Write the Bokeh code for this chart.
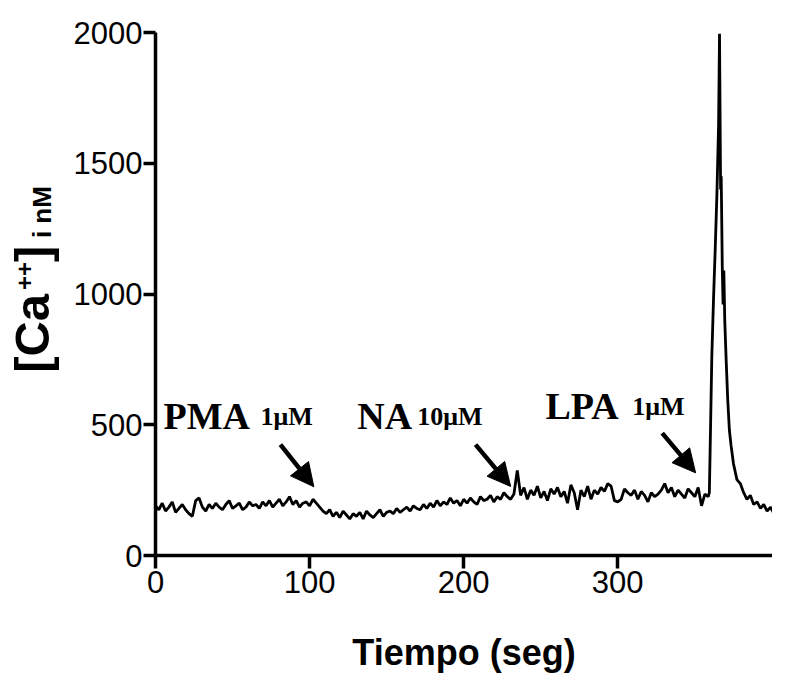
import numpy as np
from bokeh.plotting import figure
from bokeh.layouts import row
from bokeh.models import Label, Arrow, NormalHead, Range1d, FixedTicker
from bokeh.core.properties import value
from bokeh.embed import file_html
from bokeh.resources import INLINE

# ---- data ----
sample_step = 2.175  # seconds between samples of the resting trace
ca_base = [
    190, 175, 200, 170, 185, 205, 165, 180, 195, 175,
    160, 150, 210, 220, 185, 170, 195, 180, 200, 185,
    175, 195, 210, 180, 190, 200, 175, 185, 205, 190,
    195, 180, 205, 190, 210, 185, 200, 215, 190, 205,
    225, 195, 210, 185, 200, 205, 190, 215, 200, 185,
    170, 160, 175, 150, 165, 145, 170, 155, 140, 160,
    150, 165, 140, 170, 155, 145, 160, 175, 150, 165,
    170, 160, 180, 165, 175, 185, 170, 190, 180, 175,
    195, 180, 200, 185, 210, 190, 205, 195, 220, 200,
    210, 190, 215, 200, 220, 205, 195, 225, 210, 215,
    230, 205, 225, 215, 240, 225, 215, 235, 325, 230,
    260, 215, 250, 230, 265, 220, 245, 210, 255, 235,
    260, 225, 245, 200, 270, 240, 175, 250, 225, 265,
    215, 250, 235, 260, 245, 275, 265, 210, 205, 215,
    255, 240, 230, 250, 215, 245, 230, 205, 240, 225,
    235, 250, 275, 240, 260, 225, 250, 235, 220, 255,
    240, 225, 260, 190, 235, 225,
]
time_base = [round(i * sample_step, 3) for i in range(len(ca_base))]
time_peak = [359.6, 360.1, 361.2, 362.3, 363.4, 364.5, 365.6, 366.2, 366.9, 367.3,
             368.0, 368.5, 369.0, 369.6, 370.5, 371.5, 372.6, 373.7, 375.3, 377.5,
             379.7, 381.9, 384.0, 386.2, 388.4, 390.6, 392.8, 394.9, 397.1, 399.3,
             401.5, 403.6, 405.8]
ca_peak = [240, 400, 760, 980, 1170, 1380, 1650, 1995, 1400, 1450,
           1100, 960, 1090, 900, 750, 600, 480, 420, 350, 290,
           275, 240, 215, 230, 195, 205, 180, 195, 170, 185,
           160, 175, 165]

x_ticks = [0, 100, 200, 300]
y_ticks = [0, 500, 1000, 1500, 2000]

annot_names = ["PMA", "NA", "LPA"]
annot_doses = ["1\u03bcM", "10\u03bcM", "1\u03bcM"]
annot_name_x = [5.2, 131.0, 253.2]
annot_dose_x = [68.2, 169.9, 309.6]
annot_text_y = [532, 532, 571]
arrow_x0 = [81.1, 207.8, 329.0]
arrow_y0 = [424, 424, 468]
arrow_x1 = [102.8, 230.6, 350.7]
arrow_y1 = [263, 264, 316]

time = time_base + time_peak
ca = ca_base + ca_peak

# ---- main plot ----
p = figure(width=712, height=675, output_backend="svg", toolbar_location=None,
           x_range=Range1d(0, 400.6), y_range=Range1d(0, 2000),
           min_border_left=95, min_border_right=0, min_border_top=32,
           min_border_bottom=119)
p.outline_line_color = None
p.xgrid.visible = False
p.ygrid.visible = False

p.line(time, ca, line_color="black", line_width=2.8)

for ax in (p.xaxis[0], p.yaxis[0]):
    ax.axis_line_width = 3.5
    ax.axis_line_color = "black"
    ax.major_tick_line_width = 3.5
    ax.major_tick_line_color = "black"
    ax.major_tick_in = 0
    ax.minor_tick_line_color = None
    ax.major_label_text_font = "Liberation Sans"
    ax.major_label_text_font_size = "31px"
    ax.major_label_text_color = "black"

p.xaxis.ticker = FixedTicker(ticks=x_ticks)
p.yaxis.ticker = FixedTicker(ticks=y_ticks)
p.xaxis.major_tick_out = 13
p.yaxis.major_tick_out = 12
p.xaxis.major_label_standoff = 2
p.yaxis.major_label_standoff = 1

p.xaxis.axis_label = "Tiempo (seg)"
p.xaxis.axis_label_text_font = "Liberation Sans"
p.xaxis.axis_label_text_font_style = "bold"
p.xaxis.axis_label_text_font_size = "36px"
p.xaxis.axis_label_text_color = "black"
p.xaxis.axis_label_standoff = 36

for i in range(len(annot_names)):
    p.add_layout(Label(x=annot_name_x[i], y=annot_text_y[i], text=annot_names[i],
                       text_font="Liberation Serif", text_font_style="bold",
                       text_font_size="38px", text_color="black",
                       text_align="left", text_baseline="alphabetic"))
    p.add_layout(Label(x=annot_dose_x[i], y=annot_text_y[i], text=annot_doses[i],
                       text_font="Liberation Serif", text_font_style="bold",
                       text_font_size="26px", text_color="black",
                       text_align="left", text_baseline="alphabetic"))
    p.add_layout(Arrow(end=NormalHead(size=23, fill_color="black", line_color="black"),
                       x_start=arrow_x0[i], y_start=arrow_y0[i],
                       x_end=arrow_x1[i], y_end=arrow_y1[i],
                       line_width=4.5, line_color="black"))

# ---- y-axis title panel (rotated pieces with mixed sizes) ----
# In a row the frames are aligned (top border 32, bottom border 119), so the
# y range maps page pixels: value = 675 - pixel_y.
ylab = figure(width=60, height=675, output_backend="svg", toolbar_location=None,
              x_range=Range1d(0, 60), y_range=Range1d(119, 643),
              min_border_left=0, min_border_right=0,
              min_border_top=32, min_border_bottom=119)
ylab.axis.visible = False
ylab.grid.visible = False
ylab.outline_line_color = None

ylab_text = ["[Ca", "++", "]", "i nM"]
ylab_x = [31, 24, 31, 41]
ylab_y = [302, 385, 413, 437]
ylab_size = ["49px", "24px", "49px", "26px"]
for t, xx, yy, fs in zip(ylab_text, ylab_x, ylab_y, ylab_size):
    ylab.text(x=[xx], y=[yy], text=[t], angle=np.pi / 2,
              text_font=value("Liberation Sans"), text_font_style="bold",
              text_font_size=value(fs), text_color="black",
              text_align="left", text_baseline="middle")

layout = row(ylab, p, spacing=0)
open("out.html", "w").write(file_html(layout, INLINE))
